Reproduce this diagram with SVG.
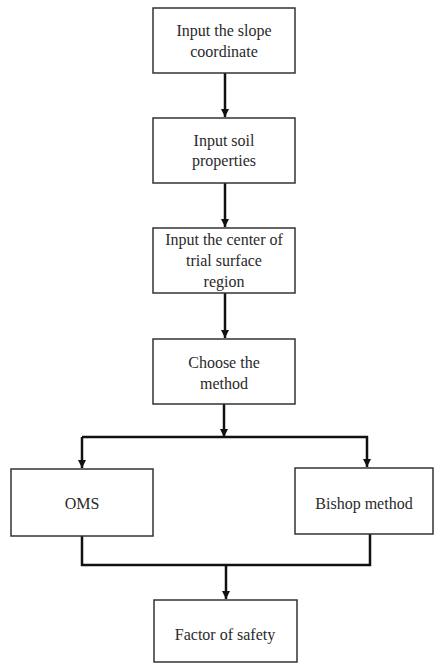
<svg xmlns="http://www.w3.org/2000/svg" width="434" height="664" viewBox="0 0 434 664">
<style>
.box{fill:#fff;stroke:#333;stroke-width:1.5}
text{font-family:'Liberation Serif','Times New Roman',serif;font-size:16px;fill:#2a2a2a;text-anchor:middle}
.c{fill:none;stroke:#111;stroke-width:2.5}
</style>
<defs>
<marker id="ah" viewBox="0 0 10 10" refX="10" refY="5" markerWidth="3.2" markerHeight="3.2" orient="auto" markerUnits="strokeWidth">
<path d="M0,0 L10,5 L0,10 Z" fill="#111"/>
</marker>
</defs>
<rect width="434" height="664" fill="#fff"/>
<g id="connectors">
<path class="c" d="M225,73 V117" marker-end="url(#ah)"/>
<path class="c" d="M225,183 V227" marker-end="url(#ah)"/>
<path class="c" d="M225,293 V338" marker-end="url(#ah)"/>
<path class="c" d="M224,404 V437" marker-end="url(#ah)"/>
<path class="c" d="M82,437 H367 V467" marker-end="url(#ah)"/>
<path class="c" d="M82,437 V468" marker-end="url(#ah)"/>
<path class="c" d="M82,536 V565 H370 V534"/>
<path class="c" d="M226,565 V599" marker-end="url(#ah)"/>
</g>
<g id="n1"><rect class="box" x="153" y="8" width="142" height="65"/><text x="224" y="36">Input the slope</text><text x="224" y="57">coordinate</text></g>
<g id="n2"><rect class="box" x="153" y="118" width="142" height="65"/><text x="224" y="146">Input soil</text><text x="224" y="166">properties</text></g>
<g id="n3"><rect class="box" x="153" y="228" width="142" height="65"/><text x="224" y="245">Input the center of</text><text x="224" y="266">trial  surface</text><text x="224" y="287">region</text></g>
<g id="n4"><rect class="box" x="153" y="339" width="142" height="65"/><text x="224" y="368">Choose the</text><text x="224" y="389">method</text></g>
<g id="n5"><rect class="box" x="11" y="469" width="142" height="67"/><text x="82" y="509">OMS</text></g>
<g id="n6"><rect class="box" x="295" y="468" width="138" height="66"/><text x="364" y="509">Bishop method</text></g>
<g id="n7"><rect class="box" x="154" y="600" width="143" height="62"/><text x="225" y="640">Factor of safety</text></g>
</svg>
